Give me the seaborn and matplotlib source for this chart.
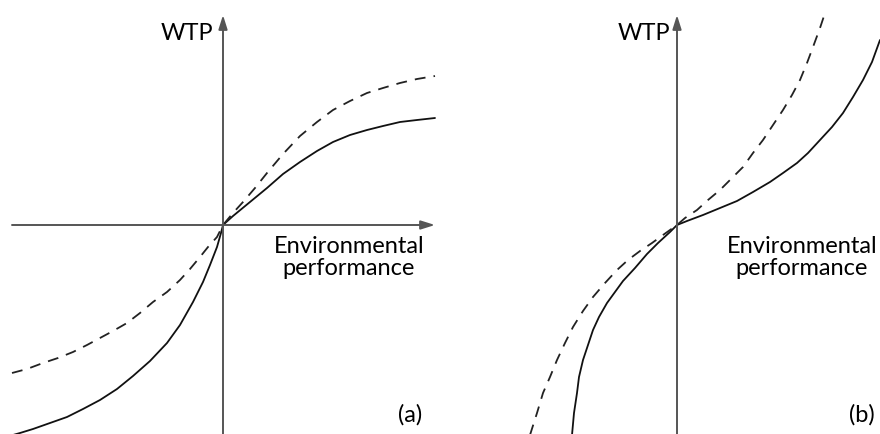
import matplotlib
matplotlib.use("Agg")
import matplotlib.pyplot as plt
import seaborn as sns
import pandas as pd

# Panel (a) curves: x = environmental performance, y = WTP (arbitrary units, origin at axes crossing)
a_solid_x = [-2.10, -2.03, -1.90, -1.73, -1.56, -1.40, -1.23, -1.06, -0.90, -0.73, -0.56, -0.43,
             -0.30, -0.20, -0.13, -0.06, -0.02, 0.0,
             0.10, 0.27, 0.44, 0.60, 0.77, 0.94, 1.10, 1.27, 1.44, 1.60, 1.77, 1.94, 2.12]
a_solid_y = [-2.10, -2.08, -2.04, -1.98, -1.92, -1.84, -1.75, -1.64, -1.51, -1.36, -1.18, -1.00,
             -0.77, -0.57, -0.40, -0.22, -0.08, 0.0,
             0.09, 0.23, 0.37, 0.51, 0.63, 0.74, 0.83, 0.90, 0.95, 0.99, 1.03, 1.05, 1.07]
a_dash_x = [-2.11, -1.96, -1.80, -1.65, -1.50, -1.36, -1.23, -1.10, -0.96, -0.83, -0.70, -0.56,
            -0.43, -0.33, -0.23, -0.15, -0.06, 0.0,
            0.10, 0.20, 0.32, 0.44, 0.60, 0.77, 0.94, 1.10, 1.27, 1.44, 1.60, 1.77, 1.94, 2.12]
a_dash_y = [-1.48, -1.44, -1.38, -1.33, -1.27, -1.20, -1.13, -1.06, -0.98, -0.88, -0.77, -0.67,
            -0.55, -0.44, -0.32, -0.22, -0.12, 0.0,
            0.12, 0.23, 0.37, 0.52, 0.71, 0.89, 1.03, 1.15, 1.24, 1.32, 1.37, 1.42, 1.46, 1.49]

# Panel (b) curves
b_solid_x = [-1.05, -1.03, -1.00, -0.98, -0.94, -0.89, -0.84, -0.78, -0.70, -0.62, -0.54, -0.42,
             -0.30, -0.19, -0.07, 0.0,
             0.10, 0.26, 0.43, 0.60, 0.76, 0.93, 1.06, 1.20, 1.31, 1.43, 1.55, 1.66, 1.76,
             1.86, 1.95, 2.03]
b_solid_y = [-2.10, -1.88, -1.68, -1.52, -1.35, -1.20, -1.05, -0.92, -0.78, -0.67, -0.56, -0.43,
             -0.29, -0.18, -0.07, 0.0,
             0.04, 0.10, 0.17, 0.24, 0.33, 0.43, 0.52, 0.62, 0.72, 0.85, 0.98, 1.12, 1.28,
             1.45, 1.63, 1.85]
b_dash_x = [-1.47, -1.40, -1.34, -1.27, -1.20, -1.12, -1.04, -0.94, -0.84, -0.72, -0.60, -0.49,
            -0.37, -0.25, -0.14, 0.0,
            0.08, 0.20, 0.31, 0.43, 0.55, 0.66, 0.76, 0.86, 0.96, 1.06, 1.15, 1.23, 1.30,
            1.36, 1.43, 1.48]
b_dash_y = [-2.10, -1.88, -1.68, -1.52, -1.35, -1.18, -1.02, -0.86, -0.72, -0.58, -0.45, -0.35,
            -0.26, -0.18, -0.10, 0.0,
            0.07, 0.15, 0.25, 0.35, 0.47, 0.58, 0.72, 0.85, 1.00, 1.15, 1.30, 1.45, 1.62,
            1.78, 1.97, 2.12]

y_label = "WTP"
x_label_lines = ["Environmental", "performance"]
panel_tags = ["(a)", "(b)"]

sns.set_theme(style="white")
plt.rcParams['font.family'] = ['Lato', 'DejaVu Sans']

fig = plt.figure(figsize=(8.8, 4.34), dpi=100)
ax_a = fig.add_axes([0.0, 0.0, 0.5, 1.0])
ax_b = fig.add_axes([0.5, 0.0, 0.5, 1.0])

axis_col = "#555555"
curve_col = "#111111"
text_col = "#000000"

panels = [
    (ax_a, a_solid_x, a_solid_y, a_dash_x, a_dash_y, (-2.23, 2.17), (-2.11, 2.12)),
    (ax_b, b_solid_x, b_solid_y, b_dash_x, b_dash_y, (-2.37, 2.03), (-2.11, 2.06)),
]

for ax, sx, sy, dx, dy, xlim, xspan in panels:
    ax.set_xlim(*xlim)
    ax.set_ylim(-2.09, 2.25)
    ax.axis("off")
    ax.annotate("", xy=(xspan[1], 0), xytext=(xspan[0], 0),
                arrowprops=dict(arrowstyle="-|>,head_length=0.7,head_width=0.22",
                                color=axis_col, lw=1.4, shrinkA=0, shrinkB=0))
    ax.annotate("", xy=(0, 2.10), xytext=(0, -2.12),
                arrowprops=dict(arrowstyle="-|>,head_length=0.7,head_width=0.22",
                                color=axis_col, lw=1.4, shrinkA=0, shrinkB=0))
    df_s = pd.DataFrame({"x": sx, "y": sy})
    df_d = pd.DataFrame({"x": dx, "y": dy})
    sns.lineplot(data=df_s, x="x", y="y", ax=ax, sort=False, color=curve_col, lw=1.3)
    sns.lineplot(data=df_d, x="x", y="y", ax=ax, sort=False, color="#222222", lw=1.3,
                 linestyle=(0, (6, 4.5)))
    ax.axis("off")

fs = 17
ax_a.text(-0.10, 1.85, y_label, ha="right", va="baseline", fontsize=fs, color=text_col)
ax_a.text(1.26, -0.28, x_label_lines[0], ha="center", va="baseline", fontsize=fs, color=text_col)
ax_a.text(1.26, -0.50, x_label_lines[1], ha="center", va="baseline", fontsize=fs, color=text_col)
ax_a.text(1.87, -1.90, panel_tags[0], ha="center", va="center", fontsize=fs, color=text_col)

ax_b.text(-0.07, 1.85, y_label, ha="right", va="baseline", fontsize=fs, color=text_col)
ax_b.text(1.25, -0.28, x_label_lines[0], ha="center", va="baseline", fontsize=fs, color=text_col)
ax_b.text(1.25, -0.50, x_label_lines[1], ha="center", va="baseline", fontsize=fs, color=text_col)
ax_b.text(1.85, -1.90, panel_tags[1], ha="center", va="center", fontsize=fs, color=text_col)

fig.savefig("out.png", dpi=100, facecolor="white")
